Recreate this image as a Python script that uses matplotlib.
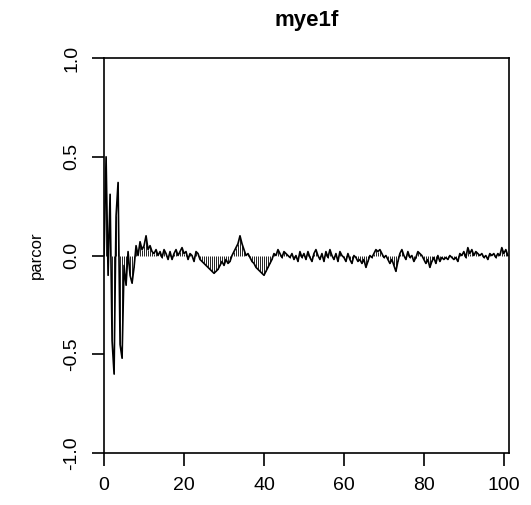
import matplotlib
matplotlib.use("Agg")
import matplotlib.pyplot as plt
import numpy as np

plt.rcParams['font.family'] = ['Liberation Sans', 'DejaVu Sans']

# partial autocorrelation values, one every half lag
parcor = [
    0.00, 0.50, -0.10, 0.31, -0.43, -0.60, 0.20, 0.37, -0.45, -0.52,
    -0.05, -0.15, 0.02, -0.10, -0.14, -0.06, 0.05, 0.00, 0.07, 0.03,
    0.05, 0.10, 0.03, 0.05, 0.02, 0.01, 0.03, 0.00, 0.02, -0.01,
    0.03, 0.01, -0.02, 0.02, -0.02, 0.01, 0.03, 0.00, 0.02, 0.04,
    0.01, 0.02, -0.02, 0.01, 0.00, -0.03, 0.02, 0.01, -0.02, -0.03,
    -0.04, -0.05, -0.06, -0.07, -0.08, -0.09, -0.08, -0.07, -0.05, -0.03,
    -0.05, -0.02, -0.04, -0.03, 0.00, 0.02, 0.04, 0.06, 0.10, 0.06,
    0.03, 0.00, 0.01, -0.01, -0.03, -0.04, -0.06, -0.07, -0.08, -0.09,
    -0.10, -0.08, -0.06, -0.04, -0.02, 0.01, 0.00, 0.03, 0.01, -0.01,
    0.02, 0.01, 0.00, -0.01, 0.01, -0.02, 0.00, -0.03, 0.02, -0.01,
    0.01, -0.02, 0.02, -0.01, -0.03, 0.01, 0.03, 0.00, -0.02, 0.01,
    -0.03, 0.02, -0.01, 0.03, 0.00, -0.02, 0.01, -0.03, 0.02, 0.00,
    -0.01, -0.03, 0.01, -0.02, -0.04, 0.00, -0.01, -0.03, -0.02, -0.04,
    -0.02, -0.06, -0.03, 0.00, -0.01, 0.01, 0.03, 0.02, 0.03, 0.01,
    -0.01, 0.00, -0.02, -0.04, -0.02, -0.05, -0.08, -0.03, 0.01, 0.03,
    0.00, -0.02, 0.02, -0.01, 0.00, -0.03, -0.01, 0.02, 0.01, 0.00,
    -0.02, -0.04, -0.02, -0.06, -0.03, -0.01, -0.04, 0.00, -0.03, -0.01,
    -0.02, -0.01, -0.02, 0.00, -0.01, -0.02, -0.01, -0.03, 0.01, 0.00,
    0.02, -0.01, 0.04, 0.01, 0.03, 0.00, 0.02, 0.01, 0.00, 0.01,
    -0.01, 0.00, -0.02, 0.01, 0.00, 0.01, -0.01, 0.01, 0.00, 0.04,
    0.01, 0.03, 0.00,
]
lag_step = 0.5
lags = np.arange(len(parcor)) * lag_step

xticks = [0, 20, 40, 60, 80, 100]
yticks = [-1.0, -0.5, 0.0, 0.5, 1.0]
ytick_labels = ['-1.0', '-0.5', '0.0', '0.5', '1.0']

fig = plt.figure(figsize=(5.31, 5.05), dpi=100)
ax = fig.add_axes([0.196, 0.103, 0.7626, 0.782])

ax.vlines(lags, 0, parcor, color='black', linewidth=0.6)
ax.plot(lags, parcor, color='black', linewidth=1.2)

ax.set_xlim(0, 101.3)
ax.set_ylim(-1, 1)
ax.set_xticks(xticks)
ax.set_yticks(yticks)
ax.set_yticklabels(ytick_labels, rotation=90, va='center')
ax.tick_params(direction='out', length=9, width=1.2, labelsize=14, pad=8)
for s in ax.spines.values():
    s.set_linewidth(1.2)

ax.set_ylabel('parcor', fontsize=12, labelpad=14)
ax.set_title('mye1f', fontsize=16, fontweight='bold', pad=23)

fig.savefig('out.png', dpi=100)
